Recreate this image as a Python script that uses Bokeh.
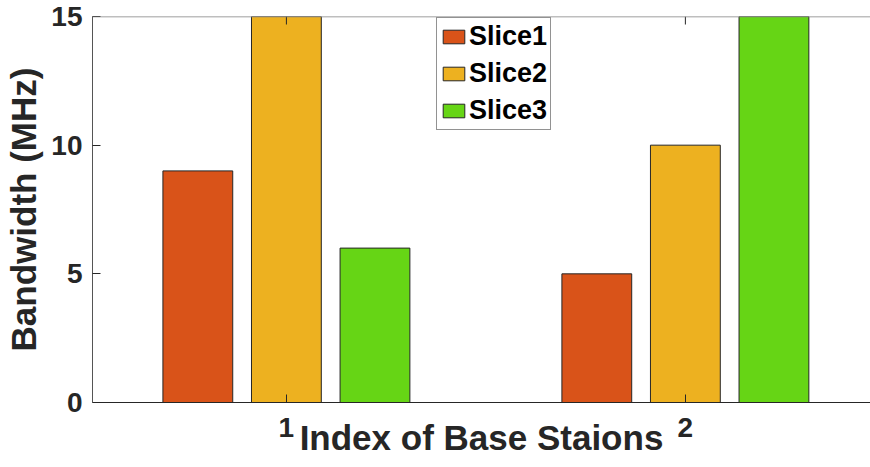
from bokeh.plotting import figure
from bokeh.models import ColumnDataSource, FixedTicker, Range1d, Span
from bokeh.transform import dodge
from bokeh.embed import file_html
from bokeh.resources import INLINE

stations = [1, 2]
slice1 = [9, 5]
slice2 = [15, 10]
slice3 = [6, 15]
series_names = ["Slice1", "Slice2", "Slice3"]
y_ticks = [0, 5, 10, 15]
x_label = "Index of Base Staions"
y_label = "Bandwidth (MHz)"

colors = ["#D95319", "#EDB120", "#66D515"]
offsets = [-0.222, 0.0, 0.222]
bar_width = 0.175
FONT = "Liberation Sans"
AX = "#262626"

W, H = 870, 467
LEFT, TOP, BOTTOM = 92, 16, 65
Y0, Y1 = 0, 15
frame_h = H - TOP - BOTTOM

src = ColumnDataSource(dict(x=stations, Slice1=slice1, Slice2=slice2, Slice3=slice3))

p = figure(width=W, height=H,
           x_range=Range1d(0.514, 2.464), y_range=Range1d(Y0, Y1),
           output_backend="svg", toolbar_location=None,
           min_border_left=LEFT, min_border_top=TOP, min_border_right=0,
           min_border_bottom=BOTTOM)
p.background_fill_color = "white"
p.border_fill_color = "white"
p.outline_line_color = None
p.grid.visible = False

for name, col, off in zip(series_names, colors, offsets):
    p.vbar(x=dodge("x", off, range=p.x_range), top=name, width=bar_width, bottom=0,
           source=src, fill_color=col, line_color=AX, line_width=1, legend_label=name)

# top box edge and its inward ticks
p.add_layout(Span(location=Y1, dimension="width", line_color="#7f7f7f", line_width=1.5))
tick_len = 8 * (Y1 - Y0) / frame_h
p.segment(x0=stations, x1=stations, y0=[Y1] * len(stations),
          y1=[Y1 - tick_len] * len(stations), line_color=AX, line_width=1)

for ax in (p.xaxis[0], p.yaxis[0]):
    ax.major_tick_in = 8
    ax.major_tick_out = 0
    ax.minor_tick_line_color = None
    ax.axis_line_color = AX
    ax.major_tick_line_color = AX
    ax.major_label_text_font = FONT
    ax.major_label_text_font_style = "bold"
    ax.major_label_text_font_size = "28px"
    ax.major_label_text_color = AX
    ax.axis_label_text_font = FONT
    ax.axis_label_text_font_style = "bold"
    ax.axis_label_text_font_size = "35px"
    ax.axis_label_text_color = AX

p.yaxis.axis_line_color = "#555555"
p.xaxis.ticker = FixedTicker(ticks=stations)
p.xaxis.major_label_standoff = 15
p.xaxis.axis_label = x_label
p.xaxis.axis_label_standoff = -22
p.yaxis.ticker = FixedTicker(ticks=y_ticks)
p.yaxis.major_label_standoff = 10
p.yaxis.axis_label = y_label
p.yaxis.axis_label_standoff = 5

lg = p.legend[0]
lg.location = (344, 272)
lg.border_line_color = AX
lg.border_line_width = 1
lg.background_fill_alpha = 1
lg.padding = 3
lg.spacing = 6
lg.margin = 0
lg.glyph_width = 27
lg.glyph_height = 17
lg.label_standoff = 2
lg.label_text_font = FONT
lg.label_text_font_style = "bold"
lg.label_text_font_size = "27px"
lg.label_text_color = "black"

open("out.html", "w").write(file_html(p, INLINE))
